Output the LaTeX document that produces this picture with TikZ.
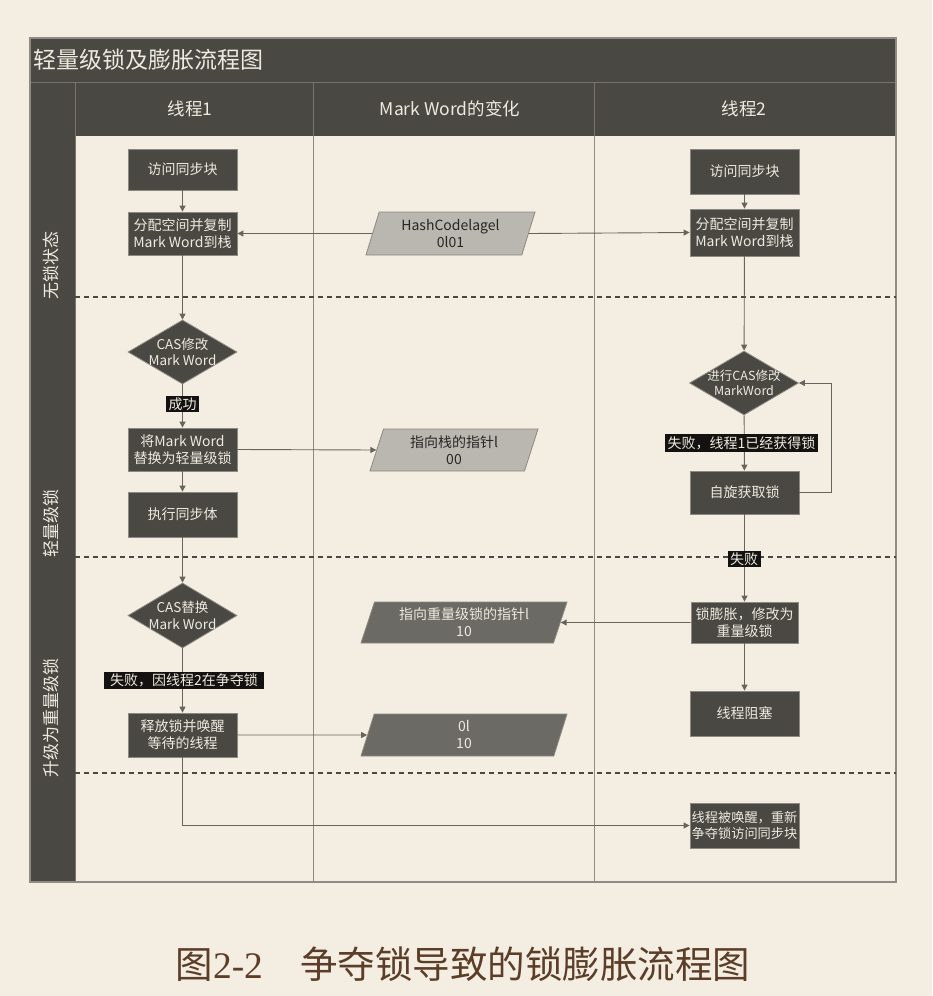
\documentclass[tikz,border=0pt]{standalone}
\usepackage{fontspec}
\setmainfont{Noto Sans CJK SC}
\newfontfamily\serifnum{Liberation Serif}
\usetikzlibrary{arrows.meta,shapes.geometric}
\definecolor{bgc}{HTML}{F4EEE2}
\definecolor{darkc}{HTML}{4A4843}
\definecolor{boxb}{HTML}{8C8982}
\definecolor{gridc}{HTML}{8E8B84}
\definecolor{hdrl}{HTML}{77746E}
\definecolor{txtc}{HTML}{EEEADF}
\definecolor{parl}{HTML}{B9B7AF}
\definecolor{pard}{HTML}{6C6A65}
\definecolor{blk}{HTML}{141210}
\definecolor{linec}{HTML}{67645E}
\definecolor{capc}{HTML}{5B3D28}
\begin{document}
\begin{tikzpicture}[x=1pt,y=-1pt,
  box/.style={draw=boxb, line width=0.8pt, fill=darkc, text=txtc,
    font=\fontsize{14}{17}\selectfont, align=center,
    minimum width=109pt, minimum height=44pt, inner sep=0pt},
  dia/.style={diamond, draw=boxb, line width=0.8pt, fill=darkc,
    minimum width=109pt, minimum height=64pt, inner sep=0pt},
  diatext/.style={text=txtc, font=\fontsize{13.5}{16.5}\selectfont, align=center, inner sep=0pt},
  para/.style={trapezium, trapezium left angle=65, trapezium right angle=115,
    trapezium stretches body,
    draw=boxb, line width=0.8pt, inner sep=0pt, align=center,
    font=\fontsize{14}{17}\selectfont, minimum height=43pt},
  plight/.style={para, fill=parl, text=black!85},
  pdark/.style={para, fill=pard, text=txtc},
  lab/.style={fill=blk, text=txtc, font=\fontsize{14}{16}\selectfont, inner ysep=2pt, inner xsep=2.5pt},
  arr/.style={draw=linec, line width=0.9pt, -{Triangle[length=6pt,width=6pt]}},
  dashsep/.style={draw=darkc, line width=2pt, dash pattern=on 5pt off 4pt},
  strip/.style={text=txtc, font=\fontsize{17}{19}\selectfont, rotate=90, anchor=west, inner sep=0pt},
  hdr/.style={text=txtc, font=\fontsize{17.5}{20}\selectfont, inner sep=0pt}
]
\useasboundingbox (0,0) rectangle (932,996);
\fill[bgc] (0,0) rectangle (932,996);
% frame and headers
\fill[darkc] (30,38) rectangle (896,136);
\fill[darkc] (30,82) rectangle (75,882);
\draw[hdrl, line width=1pt] (30,82) -- (896,82);
\draw[hdrl, line width=1pt] (75,82) -- (75,882);
\draw[hdrl, line width=1pt] (313,82) -- (313,136);
\draw[hdrl, line width=1pt] (594,82) -- (594,136);
\draw[gridc, line width=0.9pt] (313,136) -- (313,882);
\draw[gridc, line width=0.9pt] (594,136) -- (594,882);
\draw[gridc, line width=1.2pt] (30,38) rectangle (896,882);
\node[text=txtc, font=\fontsize{23}{25}\selectfont, anchor=west, inner sep=0pt] (title) at (33,60) {轻量级锁及膨胀流程图};
\node[hdr] (h1) at (190,109) {线程1};
\node[hdr] (h2) at (450,109) {Mark Word的变化};
\node[hdr] (h3) at (744,109) {线程2};
% row separators
\draw[dashsep] (75,297) -- (896,297);
\draw[dashsep] (75,557) -- (896,557);
\draw[dashsep] (75,773) -- (896,773);
\node[strip] (r1) at (51,300) {无锁状态};
\node[strip] (r2) at (51,558) {轻量级锁};
\node[strip] (r3) at (51,778) {升级为重量级锁};
% thread 1
\node[box, minimum height=41pt] (a1) at (182.5,169.5) {访问同步块};
\node[box, minimum height=43pt] (a2) at (182.5,233.5) {分配空间并复制\\Mark Word到栈};
\node[dia] (d1) at (182.5,352) {};
\node[diatext] (d1t) at (d1.center) {CAS修改\\Mark Word};
\node[box, minimum height=43pt] (a3) at (182.5,449.5) {将Mark Word\\替换为轻量级锁};
\node[box, minimum height=45pt] (a4) at (182.5,514.5) {执行同步体};
\node[dia, minimum height=65pt] (d2) at (182.5,615.5) {};
\node[diatext] (d2t) at (d2.center) {CAS替换\\Mark Word};
\node[box, minimum height=44pt] (a5) at (182.5,735) {释放锁并唤醒\\等待的线程};
% mark word
\node[plight, minimum width=169pt] (p1) at (450.5,233.5) {HashCodelagel\\0l01};
\node[plight, minimum width=168pt, minimum height=42pt] (p2) at (454,450) {指向栈的指针l\\00};
\node[pdark, minimum width=206pt, minimum height=41pt] (p3) at (464,622.5) {指向重量级锁的指针l\\10};
\node[pdark, minimum width=206pt, minimum height=42pt] (p4) at (464,735) {0l\\10};
% thread 2
\node[box, minimum height=45pt] (b1) at (744.5,171.5) {访问同步块};
\node[box, minimum height=47pt] (b2) at (744.5,232.5) {分配空间并复制\\Mark Word到栈};
\node[dia] (d3) at (744,383) {};
\node[diatext, font=\fontsize{12.5}{15.5}\selectfont] (d3t) at (d3.center) {进行CAS修改\\MarkWord};
\node[box, minimum height=43pt] (b3) at (744.5,492.5) {自旋获取锁};
\node[box, minimum width=107pt, minimum height=41pt] (b4) at (744.5,622.5) {锁膨胀，修改为\\重量级锁};
\node[box, minimum height=45pt] (b5) at (744.5,713.5) {线程阻塞};
\node[box, minimum height=45pt, font=\fontsize{13.2}{16.5}\selectfont] (b6) at (744.5,825.5) {线程被唤醒，重新\\争夺锁访问同步块};
% connectors
\draw[arr] (a1) -- (a2);
\draw[arr] (a2) -- (d1);
\draw[arr] (d1) -- (a3);
\draw[arr] (a3) -- (a4);
\draw[arr] (a4) -- (d2);
\draw[arr] (d2) -- (a5);
\draw[arr] (a5.south) |- (b6.west);
\draw[arr] (p1.west) -- (a2.east);
\draw[arr] (p1.east) -- (b2.west);
\draw[arr] (a3.east) -- (p2.west);
\draw[arr] (a5.east) -- (p4.west);
\draw[arr] (b1) -- (b2);
\draw[arr] (b2) -- (d3);
\draw[arr] (d3) -- (b3);
\draw[arr] (b3.east) -- ++(32,0) |- (d3.east);
\draw[arr] (b3) -- (b4);
\draw[arr] (b4) -- (b5);
\draw[arr] (b4.west) -- (p3.east);
% edge labels
\node[lab] (l1) at (182.5,404) {成功};
\node[lab, inner xsep=6pt] (l2) at (184,680.5) {失败，因线程2在争夺锁};
\node[lab] (l3) at (741.5,443) {失败，线程1已经获得锁};
\node[lab] (l4) at (744,559) {失败};
% caption
\node[text=capc, font=\fontsize{37.5}{42}\selectfont, inner sep=0pt] (cap) at (463,964) {图{\serifnum 2-2}\hspace{1em}争夺锁导致的锁膨胀流程图};
\end{tikzpicture}
\end{document}
